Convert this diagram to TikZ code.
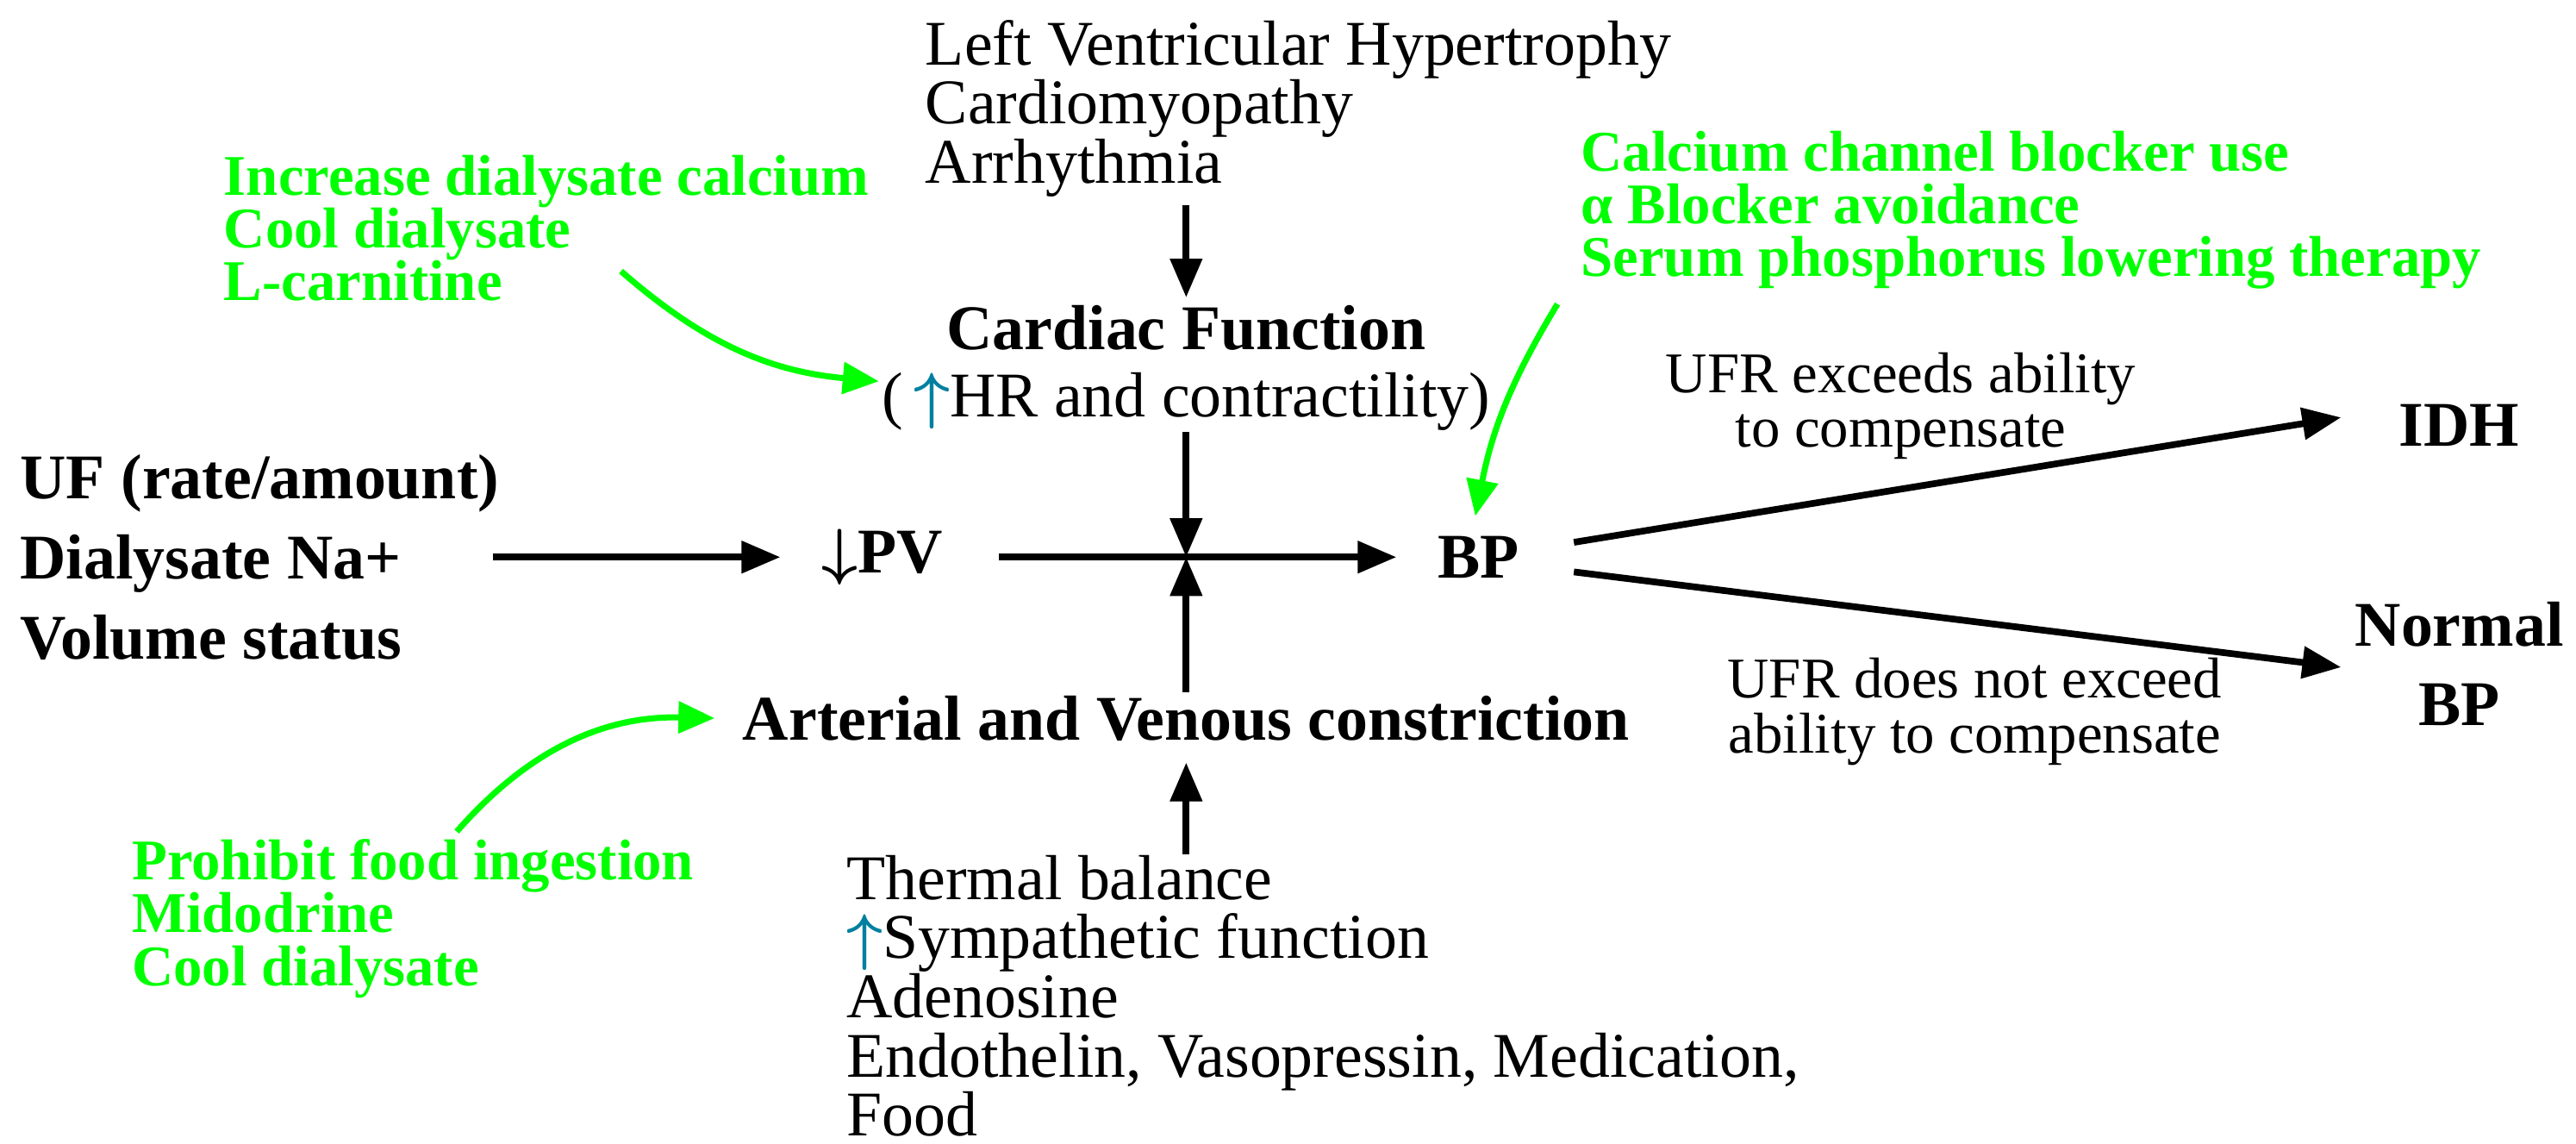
\documentclass[tikz,border=0pt]{standalone}
\usepackage{fontspec}
\setmainfont{Liberation Serif}
\usetikzlibrary{arrows.meta,positioning}
\definecolor{hintgreen}{RGB}{0,255,0}
\definecolor{upblue}{RGB}{0,128,160}
\tikzset{
  txt/.style={inner sep=0pt,font=\fontsize{21}{19.5}\selectfont,align=left},
  bold/.style={txt,font=\fontsize{21}{21}\selectfont\bfseries},
  hint/.style={inner sep=0pt,font=\fontsize{19}{17.4}\selectfont\bfseries,align=left,text=hintgreen},
  lbl/.style={inner sep=0pt,font=\fontsize{19}{18}\selectfont,align=center},
  flow/.style={line width=2.2pt,-{Triangle[length=0.45cm,width=0.36cm]}},
  gflow/.style={line width=2pt,hintgreen,-{Triangle[length=0.42cm,width=0.36cm]}}
}
\newcommand{\upa}{\textcolor{upblue}{$\boldsymbol{\uparrow}$}}
\usepackage{amsmath}
\begin{document}
\begin{tikzpicture}[x=0.01906cm,y=-0.01906cm]
\useasboundingbox (0,0) rectangle (1568,696);
% centre nodes
\node[txt,anchor=west] (lvh) at (563,66) {Left Ventricular Hypertrophy\\Cardiomyopathy\\Arrhythmia};
\node[bold,align=center] (cf) at (722,224) {Cardiac Function\\[1pt]{\mdseries(\,\upa HR and contractility)}};
\node[bold] (pv) at (537,339) {$\boldsymbol{\downarrow}$PV};
\node[bold] (bp) at (900,339) {BP};
\node[bold] (avc) at (722,437) {Arterial and Venous constriction};
\node[txt,anchor=west] (tb) at (515,606) {Thermal balance\\\upa Sympathetic function\\Adenosine\\Endothelin, Vasopressin, Medication,\\Food};
\node[bold,anchor=west,font=\fontsize{21}{26.5}\selectfont\bfseries] (uf) at (12,339) {UF (rate/amount)\\Dialysate Na+\\Volume status};
% outcomes
\node[bold] (idh) at (1497,259) {IDH};
\node[bold,align=center,font=\fontsize{21}{26}\selectfont\bfseries] (nbp) at (1497,404) {Normal\\BP};
\node[lbl] (ex) at (1157,247) {UFR exceeds ability\\to compensate};
\node[lbl] (nex) at (1202,433) {UFR does not exceed\\ability to compensate};
% interventions
\node[hint,anchor=west] (hcf) at (136,139) {Increase dialysate calcium\\Cool dialysate\\L-carnitine};
\node[hint,anchor=west] (hbp) at (962,128) {Calcium channel blocker use\\α Blocker avoidance\\Serum phosphorus lowering therapy};
\node[hint,anchor=west] (hvc) at (80,559) {Prohibit food ingestion\\Midodrine\\Cool dialysate};
\coordinate (mid) at (722,339);
% arrows
\draw[flow] (722,125) -- (722,181);
\draw[flow] (722,263) -- (mid);
\draw[flow] (722,421) -- (mid);
\draw[flow] (722,520) -- (722,464);
\draw[flow] (300,339) -- (475,339);
\draw[flow] (608,339) -- (850,339);
\draw[flow] (958,330) -- (1425,254);
\draw[flow] (958,348) -- (1425,406);
\draw[gflow] (378,165) to[bend right=18] (535,232);
\draw[gflow] (278,506) to[bend left=25] (435,437);
\draw[gflow] (948,185) to[bend right=10] (898,314);
\end{tikzpicture}
\end{document}
